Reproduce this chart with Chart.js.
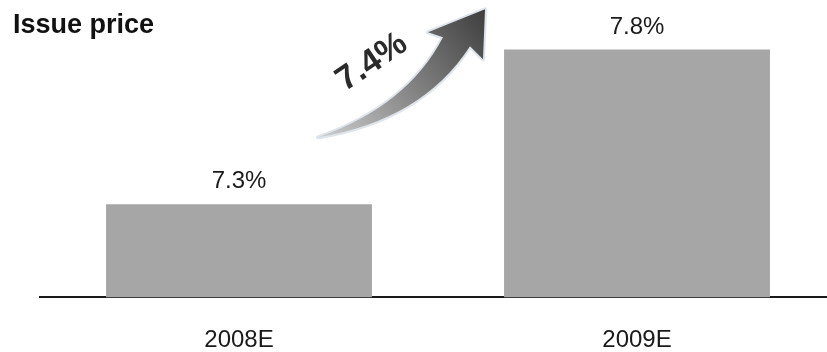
<!DOCTYPE html>
<html>
<head>
<meta charset="utf-8">
<script src="https://cdn.jsdelivr.net/npm/chart.js@4/dist/chart.umd.min.js"></script>
<style>
  html, body { margin: 0; padding: 0; background: #fff; overflow: hidden; }
  #wrap { width: 836px; height: 388px; position: relative; }
</style>
</head>
<body>
<div id="wrap"><canvas id="c"></canvas></div>
<script>
const categories = ['2008E', '2009E'];
const issuePrice = [7.3, 7.8];
const valueLabels = ['7.3%', '7.8%'];
const chartTitle = 'Issue price';
const growthLabel = '7.4%';

const FONT = '"Liberation Sans", Arial, Helvetica, sans-serif';

const overlay = {
  id: 'overlay',
  afterDatasetsDraw(chart) {
    const ctx = chart.ctx;
    const meta = chart.getDatasetMeta(0);
    ctx.save();
    // value labels
    ctx.font = '24px ' + FONT;
    ctx.fillStyle = '#1a1a1a';
    ctx.textAlign = 'center';
    ctx.textBaseline = 'alphabetic';
    meta.data.forEach((bar, i) => {
      ctx.fillText(valueLabels[i], bar.x, bar.y - 16);
    });
    // title
    ctx.font = 'bold 27px ' + FONT;
    ctx.textAlign = 'left';
    ctx.fillStyle = '#111';
    ctx.fillText(chartTitle, 13, 33);

    // growth arrow between the two bars
    const b1 = meta.data[0];
    const ox = b1.x, oy = b1.y;     // anchor: top of first bar
    const P = (dx, dy) => [ox + dx, oy + dy];
    const tail = P(79, -67);
    const upC = P(168, -98);
    const upEnd = P(204, -167);
    const headL = P(189, -172);
    const tip = P(246, -195);
    const headR = P(244, -145);
    const lowStart = P(231, -158);
    const lowC = P(183, -84);

    const path = () => {
      ctx.beginPath();
      ctx.moveTo(tail[0], tail[1]);
      ctx.quadraticCurveTo(upC[0], upC[1], upEnd[0], upEnd[1]);
      ctx.lineTo(headL[0], headL[1]);
      ctx.lineTo(tip[0], tip[1]);
      ctx.lineTo(headR[0], headR[1]);
      ctx.lineTo(lowStart[0], lowStart[1]);
      ctx.quadraticCurveTo(lowC[0], lowC[1], tail[0], tail[1]);
      ctx.closePath();
    };
    path();
    ctx.lineJoin = 'round';
    ctx.strokeStyle = '#dfe4ea';
    ctx.lineWidth = 4;
    ctx.stroke();
    const g = ctx.createLinearGradient(tail[0], tail[1], tip[0], tip[1]);
    g.addColorStop(0, '#cfcfcf');
    g.addColorStop(0.45, '#8a8a8a');
    g.addColorStop(1, '#3e3e3e');
    path();
    ctx.fillStyle = g;
    ctx.fill();

    // growth label
    const t = P(133, -142);
    ctx.translate(t[0], t[1]);
    ctx.rotate(-34 * Math.PI / 180);
    ctx.font = 'bold 34px ' + FONT;
    ctx.fillStyle = '#2a2a2a';
    ctx.textAlign = 'center';
    ctx.textBaseline = 'middle';
    ctx.fillText(growthLabel, 0, 0);
    ctx.restore();
  }
};

new Chart(document.getElementById('c'), {
  type: 'bar',
  data: {
    labels: categories,
    datasets: [{
      data: issuePrice,
      backgroundColor: '#a6a6a6',
      borderWidth: 0,
      barPercentage: 0.668,
      categoryPercentage: 1.0
    }]
  },
  options: {
    responsive: true,
    maintainAspectRatio: false,
    animation: false,
    layout: { padding: { left: 40, right: 0, top: 0, bottom: 4 } },
    plugins: { legend: { display: false }, tooltip: { enabled: false }, title: { display: false } },
    scales: {
      x: {
        grid: { display: false, drawTicks: false },
        border: { display: true, color: '#1a1a1a', width: 2 },
        ticks: { color: '#1a1a1a', font: { family: FONT, size: 24 }, padding: 29 }
      },
      y: {
        display: false,
        min: 7.0,
        max: 7.96,
        grid: { display: false }
      }
    }
  },
  plugins: [overlay]
});
</script>
</body>
</html>
